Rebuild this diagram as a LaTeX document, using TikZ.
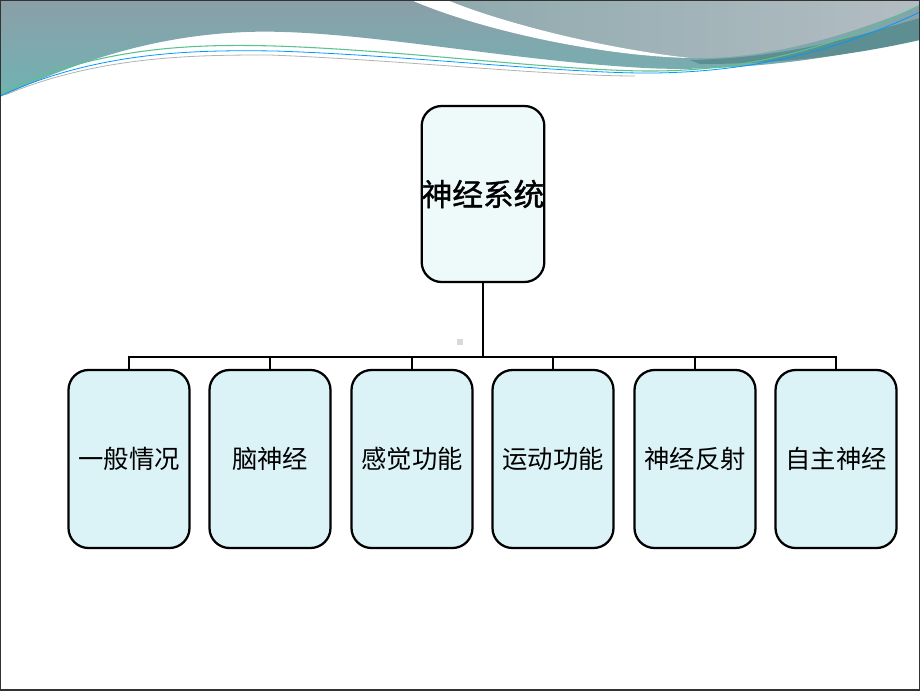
\documentclass[tikz,border=0pt]{standalone}
\usepackage{fontspec}
\newfontfamily\cjk{Noto Sans CJK SC}
\newfontfamily\cjkb[FakeBold=1.2]{Noto Sans CJK SC}
\begin{document}
\begin{tikzpicture}[x=0.75pt,y=-0.75pt,
  topbox/.style={draw=black,line width=1.7pt,rounded corners=15pt,fill=topfill,minimum width=122*0.75pt,minimum height=176*0.75pt,inner sep=0pt,font=\cjkb\fontsize{23}{27}\selectfont},
  childbox/.style={draw=black,line width=1.7pt,rounded corners=15pt,fill=childfill,minimum width=121*0.75pt,minimum height=178*0.75pt,inner sep=0pt,font=\cjk\fontsize{19}{23}\selectfont},
  conn/.style={draw=black,line width=1.6pt}]
\definecolor{topfill}{HTML}{EEF9FA}
\definecolor{childfill}{HTML}{DBF3F7}
\definecolor{tealA}{HTML}{8B9FA8}
\definecolor{tealB}{HTML}{70B3B3}
\definecolor{grayA}{HTML}{8FAAAE}
\definecolor{grayB}{HTML}{B3BDC3}
\definecolor{darkteal}{HTML}{5C8E92}
\useasboundingbox (0,0) rectangle (920,690);
\fill[white] (0,0) rectangle (920,690);
% top decoration
\shade[top color=tealA,bottom color=tealB] (0,0) -- (920,0) -- (920,37)
  .. controls (830,62) and (720,72) .. (645,68)
  .. controls (500,60) and (350,28) .. (246,32)
  .. controls (140,36) and (60,70) .. (0,97) -- cycle;
\shade[left color=grayA,right color=grayB] (447,0)
  .. controls (520,28) and (620,57) .. (700,58)
  .. controls (780,58) and (860,30) .. (920,6) -- (920,0) -- cycle;
\fill[white] (411,0) .. controls (480,30) and (600,56) .. (690,58)
  .. controls (600,48) and (500,22) .. (447,0) -- cycle;
\fill[darkteal] (690,60) .. controls (790,58) and (860,35) .. (920,18) -- (920,40)
  .. controls (840,58) and (770,64) .. (700,64) -- cycle;
\draw[line width=0.8pt,color=tealB!80!green] (0,93) .. controls (100,45) and (200,44) .. (275,46)
  .. controls (400,50) and (550,70) .. (645,71) .. controls (760,72) and (850,40) .. (920,5);
\draw[line width=0.6pt,color=blue!40!cyan] (0,96) .. controls (100,50) and (200,50) .. (275,51)
  .. controls (400,55) and (550,72) .. (640,73) .. controls (760,74) and (850,45) .. (920,12);
\draw[line width=0.6pt,color=gray!60] (5,95) .. controls (100,55) and (200,55) .. (270,55)
  .. controls (400,60) and (550,76) .. (635,76);
% slide border
\draw[line width=1.2pt,color=darkgray!80!black] (0,0) rectangle (920,690);
% nodes
\node[topbox] (top) at (483,194) {神经系统};
\node[childbox] (c1) at (129,459) {一般情况};
\node[childbox] (c2) at (270,459) {脑神经};
\node[childbox] (c3) at (412,459) {感觉功能};
\node[childbox] (c4) at (553,459) {运动功能};
\node[childbox] (c5) at (695,459) {神经反射};
\node[childbox] (c6) at (836,459) {自主神经};
\coordinate (bar) at (483,357);
\fill[gray!30] (457,339) rectangle (463,345);
\draw[conn] (top.south) -- (bar);
\foreach \c in {c1,c2,c3,c4,c5,c6} {\draw[conn] (bar) -| (\c.north);}
\end{tikzpicture}
\end{document}
